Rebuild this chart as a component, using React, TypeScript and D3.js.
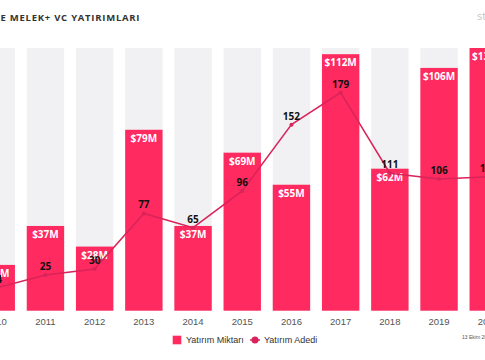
import React from "react";
import * as d3 from "d3";

const years = ["2010","2011","2012","2013","2014","2015","2016","2017","2018","2019","2020"];
const amounts = [20, 37, 28, 79, 37, 69, 55, 112, 62, 106, 139];
const counts = [14, 25, 30, 77, 65, 96, 152, 179, 111, 106, 108];
const title = "E MELEK+ VC YATIRIMLARI";
const legendLabels = ["Yatırım Miktarı", "Yatırım Adedi"];

const W = 485, H = 360;
const PINK = "#ff2a5f";
const LINE = "#d8245a";
const GRAY = "#f1f1f3";

export default function App() {
  const x = d3.scaleBand<string>().domain(years).range([-22.45, 506.95]).paddingInner(0.24).paddingOuter(0);
  const yBase = 310.7, yTop = 48;
  const y = d3.scaleLinear().domain([0, 114.7]).range([yBase, yTop]).clamp(true);
  const yc = d3.scaleLinear().domain([0, 200]).range([304.6, 67.8]);
  const bw = x.bandwidth();
  const cx = (yr: string) => (x(yr) as number) + bw / 2;
  const line = d3.line<number>().x((_, i) => cx(years[i])).y((d) => yc(d));

  return (
    <svg width={W} height={H} style={{ position: "fixed", left: 0, top: 0, background: "#fff" }}>
      <text x={0.5} y={20.5} textLength={139} lengthAdjust="spacing" fontFamily="'Open Sans', sans-serif" fontWeight={700} fontSize={9.5} fill="#333">{title}</text>
      <text x={477} y={20} fontFamily="'Open Sans', sans-serif" fontSize={11} fill="#c4c4c4">st</text>
      {years.map((yr) => (
        <rect key={"g" + yr} x={x(yr)} y={yTop} width={bw} height={yBase - yTop} fill={GRAY} />
      ))}
      {years.map((yr, i) => (
        <rect key={"b" + yr} x={x(yr)} y={y(amounts[i])} width={bw} height={yBase - y(amounts[i])} fill={PINK} />
      ))}
      {years.map((yr, i) => (
        <text key={"l" + yr} x={cx(yr)} y={y(amounts[i]) + 12} textAnchor="middle" fontFamily="'Open Sans', sans-serif" fontWeight={700} fontSize={10} fill="#fff">{`$${amounts[i]}M`}</text>
      ))}
      <path d={line(counts) as string} fill="none" stroke={LINE} strokeWidth={1.5} />
      {counts.map((c, i) => (
        <circle key={"c" + i} cx={cx(years[i])} cy={yc(c)} r={2} fill={LINE} />
      ))}
      {counts.map((c, i) => (
        <text key={"t" + i} x={cx(years[i])} y={yc(c) - 5} textAnchor="middle" fontFamily="'Open Sans', sans-serif" fontWeight={700} fontSize={10} fill="#111">{c}</text>
      ))}
      {years.map((yr) => (
        <text key={"x" + yr} x={cx(yr)} y={325} textAnchor="middle" fontFamily="'Liberation Sans', Arial, sans-serif" fontSize={9.5} fill="#555">{yr}</text>
      ))}
      <rect x={172.7} y={335.7} width={8.6} height={8.6} fill={PINK} />
      <text x={186} y={343.3} fontFamily="'Liberation Sans', Arial, sans-serif" fontSize={9} fill="#333">{legendLabels[0]}</text>
      <line x1={250} x2={260} y1={340} y2={340} stroke={LINE} strokeWidth={1.5} />
      <circle cx={255} cy={340} r={3.5} fill={LINE} />
      <text x={264} y={343.3} fontFamily="'Liberation Sans', Arial, sans-serif" fontSize={9} fill="#333">{legendLabels[1]}</text>
      <text x={462} y={339} fontFamily="'Liberation Sans', Arial, sans-serif" fontSize={5} fill="#555">13 Ekim 2020</text>
    </svg>
  );
}
